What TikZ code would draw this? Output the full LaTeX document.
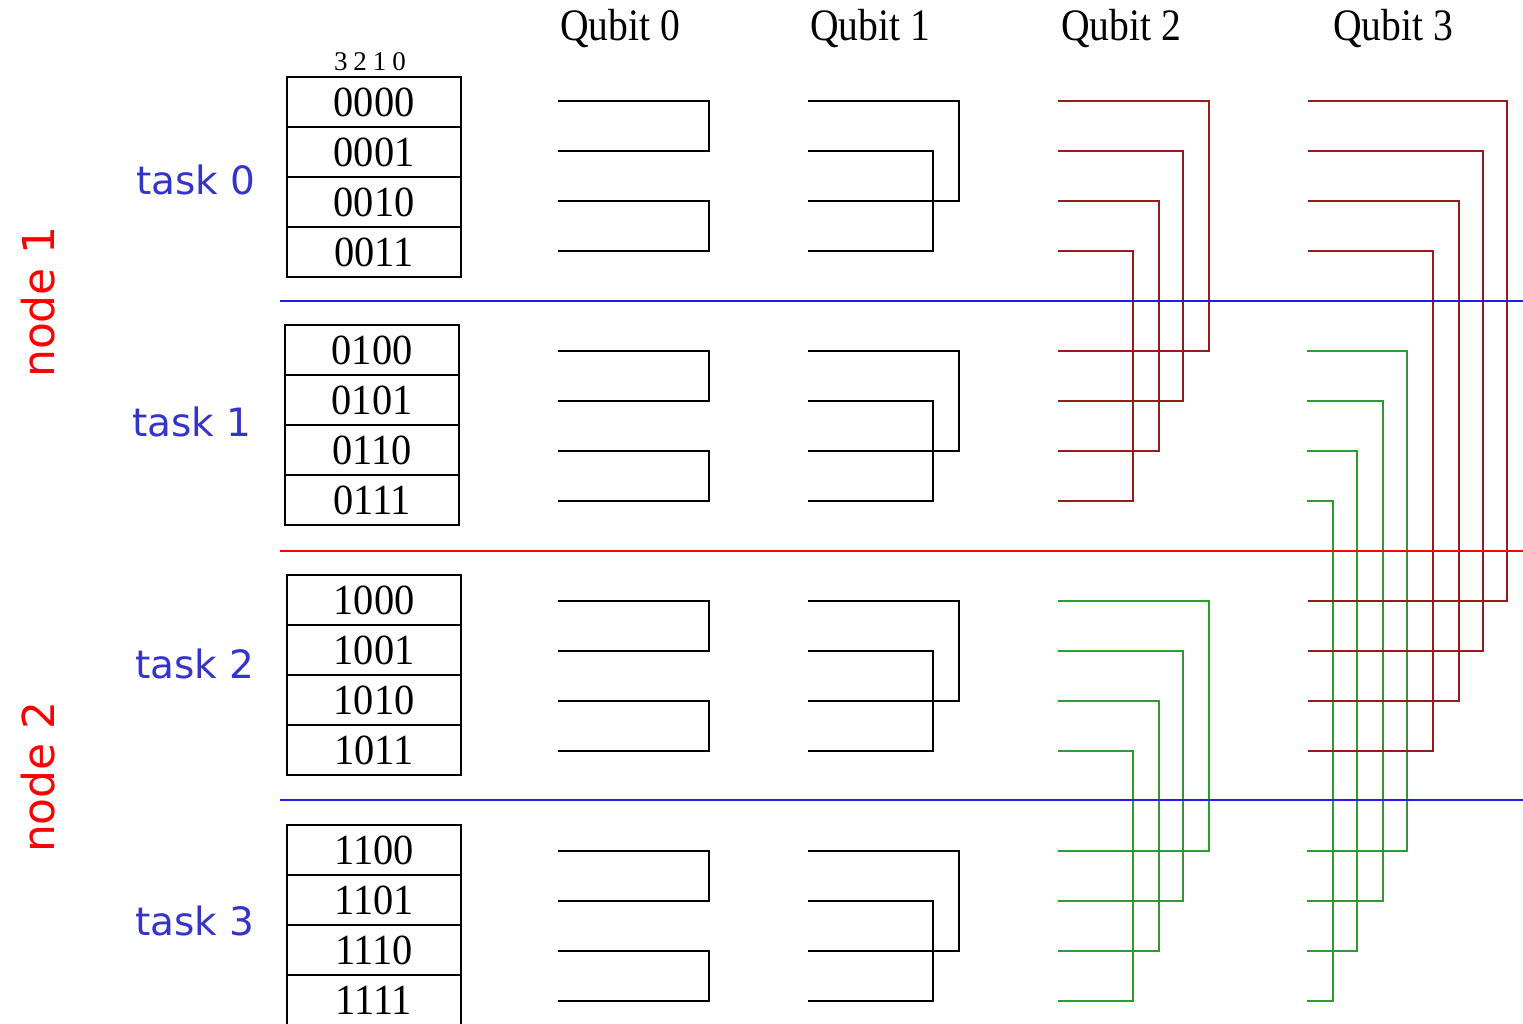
\documentclass[tikz,border=0pt]{standalone}
\usepackage{fontspec}
\setmainfont{Liberation Serif}
\newfontfamily\headfont[FakeStretch=0.88]{Liberation Serif}
\newfontfamily\cellfont[FakeStretch=0.94]{Liberation Serif}
\newfontfamily\labfont{DejaVu Sans}
\definecolor{taskblue}{RGB}{52,52,204}
\definecolor{wirered}{RGB}{150,28,28}
\definecolor{wiregreen}{RGB}{46,155,46}
\definecolor{sepblue}{RGB}{30,30,230}
\begin{document}
\begin{tikzpicture}[x=1pt,y=-1pt,
  cell/.style={draw,line width=1.7pt,minimum width=174pt,minimum height=50pt,inner sep=0pt,
    font=\cellfont\fontsize{43}{43}\selectfont},
  qlabel/.style={font=\headfont\fontsize{45}{45}\selectfont,inner sep=0pt},
  tasklabel/.style={font=\labfont\fontsize{39}{39}\selectfont,text=taskblue,inner sep=0pt},
  nodelabel/.style={font=\labfont\fontsize{44}{44}\selectfont,text=red,inner sep=0pt,rotate=90},
  wire/.style={line width=1.8pt,black},
  rwire/.style={line width=2pt,wirered},
  gwire/.style={line width=2pt,wiregreen},
  sep/.style={line width=2pt}]
\useasboundingbox (0,0) rectangle (1523,1024);
\fill[white] (0,0) rectangle (1523,1024);

% column headers
\node[qlabel] (q0) at (620,29) {Qubit 0};
\node[qlabel] (q1) at (870,29) {Qubit 1};
\node[qlabel] (q2) at (1121,29) {Qubit 2};
\node[qlabel] (q3) at (1393,29) {Qubit 3};
\node[font=\fontsize{27}{27}\selectfont,inner sep=0pt] (bits) at (370,62) {3\hspace{6pt}2\hspace{6pt}1\hspace{6pt}0};

% state tables
\node[cell] (s0) at (374,102) {0000};
\node[cell] (s1) at (374,152) {0001};
\node[cell] (s2) at (374,202) {0010};
\node[cell] (s3) at (374,252) {0011};
\node[cell] (s4) at (372,350) {0100};
\node[cell] (s5) at (372,400) {0101};
\node[cell] (s6) at (372,450) {0110};
\node[cell] (s7) at (372,500) {0111};
\node[cell] (s8) at (374,600) {1000};
\node[cell] (s9) at (374,650) {1001};
\node[cell] (s10) at (374,700) {1010};
\node[cell] (s11) at (374,750) {1011};
\node[cell] (s12) at (374,850) {1100};
\node[cell] (s13) at (374,900) {1101};
\node[cell] (s14) at (374,950) {1110};
\node[cell] (s15) at (374,1000) {1111};

% task and node labels
\node[tasklabel] (t0) at (196,180) {task 0};
\node[tasklabel] (t1) at (192,422) {task 1};
\node[tasklabel] (t2) at (195,664) {task 2};
\node[tasklabel] (t3) at (195,921) {task 3};
\node[nodelabel] (n1) at (38,302) {node 1};
\node[nodelabel] (n2) at (38,777) {node 2};

% Qubit 0 and Qubit 1 pairings (within a task)
\foreach \t in {0,1,2,3}{
  \pgfmathsetmacro{\b}{101+250*\t}
  \draw[wire] (558,\b) -- (709,\b) -- (709,\b+50) -- (558,\b+50);
  \draw[wire] (558,\b+100) -- (709,\b+100) -- (709,\b+150) -- (558,\b+150);
  \draw[wire] (808,\b) -- (959,\b) -- (959,\b+100) -- (808,\b+100);
  \draw[wire] (808,\b+50) -- (933,\b+50) -- (933,\b+150) -- (808,\b+150);
}

% Qubit 2 pairings (between tasks of the same node)
\foreach \j/\xv in {0/1209,1/1183,2/1159,3/1133}{
  \draw[rwire] (1058,101+50*\j) -- (\xv,101+50*\j) -- (\xv,351+50*\j) -- (1058,351+50*\j);
  \draw[gwire] (1058,601+50*\j) -- (\xv,601+50*\j) -- (\xv,851+50*\j) -- (1058,851+50*\j);
}

% Qubit 3 pairings (between nodes)
\foreach \j/\xv in {0/1407,1/1383,2/1357,3/1333}{
  \draw[gwire] (1307,351+50*\j) -- (\xv,351+50*\j) -- (\xv,851+50*\j) -- (1307,851+50*\j);
}
\foreach \j/\xv in {0/1507,1/1483,2/1459,3/1433}{
  \draw[rwire] (1308,101+50*\j) -- (\xv,101+50*\j) -- (\xv,601+50*\j) -- (1308,601+50*\j);
}

% separators
\coordinate (a1) at (280,301); \coordinate (b1) at (1523,301);
\coordinate (a2) at (280,551); \coordinate (b2) at (1523,551);
\coordinate (a3) at (280,800); \coordinate (b3) at (1523,800);
\draw[sep,sepblue] (a1) -- (b1);
\draw[sep,red] (a2) -- (b2);
\draw[sep,sepblue] (a3) -- (b3);
\end{tikzpicture}
\end{document}
